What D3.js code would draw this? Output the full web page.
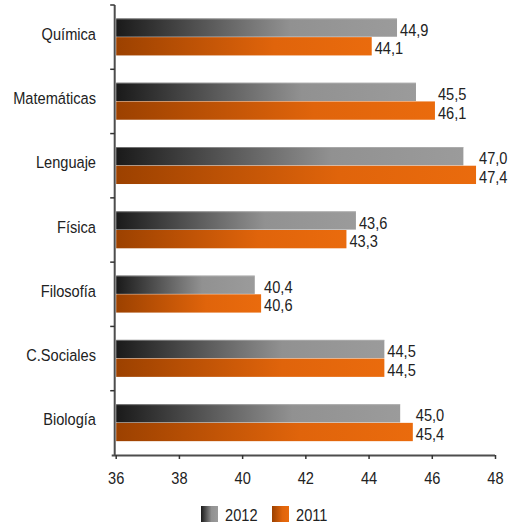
<!DOCTYPE html>
<html>
<head>
<meta charset="utf-8">
<script src="https://cdn.jsdelivr.net/npm/d3@7"></script>
<style>
  html, body { margin: 0; padding: 0; background: #fff; }
  svg { display: block; }
</style>
</head>
<body>
<div id="chart"></div>
<script>
const categories = ["Química", "Matemáticas", "Lenguaje", "Física", "Filosofía", "C.Sociales", "Biología"];
const values2012 = [44.9, 45.5, 47.0, 43.6, 40.4, 44.5, 45.0];
const values2011 = [44.1, 46.1, 47.4, 43.3, 40.6, 44.5, 45.4];
const seriesNames = ["2012", "2011"];
const xTicks = [36, 38, 40, 42, 44, 46, 48];

(function () {
const W = 532, H = 525;
const mLeft = 115.7, mRight = 495, mTop = 5, mBottom = 455;

const FONT = '"Liberation Sans", Arial, sans-serif';
const FS = 17.2;
const SQUEEZE = 0.85;

const svg = d3.select("#chart").append("svg").attr("width", W).attr("height", H)
  .style("font-family", FONT).style("font-size", FS + "px");

function fitText(sel) {
  sel.each(function () {
    const l = this.getComputedTextLength();
    d3.select(this).attr("textLength", l * SQUEEZE).attr("lengthAdjust", "spacingAndGlyphs");
  });
}

const defs = svg.append("defs");
const g12 = defs.append("linearGradient").attr("id", "g2012");
g12.append("stop").attr("offset", "0").attr("stop-color", "#1a1a1a");
g12.append("stop").attr("offset", "0.62").attr("stop-color", "#919191");
g12.append("stop").attr("offset", "1").attr("stop-color", "#9b9b9b");
const g11 = defs.append("linearGradient").attr("id", "g2011");
g11.append("stop").attr("offset", "0").attr("stop-color", "#9c4100");
g11.append("stop").attr("offset", "0.62").attr("stop-color", "#e0640b");
g11.append("stop").attr("offset", "1").attr("stop-color", "#ea6b0d");
const fills = ["url(#g2012)", "url(#g2011)"];

const x = d3.scaleLinear().domain([36, 48]).range([mLeft, mRight]);
const y = d3.scaleBand().domain(categories).range([mTop, mBottom]).padding(0);
const barH = 18.7;
const sub = d3.scaleBand().domain(seriesNames).range([-barH, barH]);

const rows = categories.map((c, i) => ({ cat: c, v: [values2012[i], values2011[i]] }));

// bars
const rowG = svg.append("g").selectAll("g").data(rows).join("g")
  .attr("transform", d => `translate(0,${y(d.cat) + y.bandwidth() / 2})`);

rowG.selectAll("rect.bar").data(d => d.v.map((v, k) => ({ v, k }))).join("rect")
  .attr("class", "bar")
  .attr("x", x(36) + 0.5)
  .attr("y", d => sub(seriesNames[d.k]))
  .attr("width", d => x(d.v) - x(36) - 0.5)
  .attr("height", sub.bandwidth() - 0.4)
  .attr("fill", d => fills[d.k]);

// top highlight on gray bars
rowG.append("rect")
  .attr("x", x(36) + 0.5)
  .attr("y", sub("2012"))
  .attr("width", d => x(d.v[0]) - x(36) - 0.5)
  .attr("height", 1)
  .attr("fill", "#bdbdbd").attr("opacity", 0.5);

// value labels
rowG.each(function (d) {
  const e12 = x(d.v[0]), e11 = x(d.v[1]);
  let lx = [e12 + 3, e11 + 3];
  if (e11 > e12) lx = [e11 + 3, e11 + 3];
  const sel = d3.select(this).selectAll("text.val").data(d.v.map((v, k) => ({ v, k }))).join("text")
    .attr("class", "val")
    .attr("x", p => lx[p.k])
    .attr("y", p => sub(seriesNames[p.k]) + sub.bandwidth() - 1.5)
    .attr("fill", "#222")
    .text(p => d3.format(".1f")(p.v).replace(".", ","));
  fitText(sel);
});

// y axis
const yAxisG = svg.append("g");
yAxisG.append("line").attr("x1", mLeft - 1).attr("x2", mLeft - 1).attr("y1", mTop).attr("y2", mBottom)
  .attr("stroke", "#4d4d4d").attr("stroke-width", 2);
yAxisG.selectAll("line.tk").data(categories).join("line").attr("class", "tk")
  .attr("x1", mLeft - 5.5).attr("x2", mLeft - 1)
  .attr("y1", d => y(d)).attr("y2", d => y(d))
  .attr("stroke", "#333").attr("stroke-width", 1.5);
const catText = yAxisG.selectAll("text").data(categories).join("text")
  .attr("x", 96).attr("y", d => y(d) + y.bandwidth() / 2 + 2.5)
  .attr("text-anchor", "end").attr("fill", "#222")
  .text(d => d);
fitText(catText);

// x axis
const xAxisG = svg.append("g").attr("transform", `translate(0,${mBottom})`)
  .call(d3.axisBottom(x).tickValues(xTicks).tickSize(4).tickSizeOuter(0).tickFormat(d3.format("d")));
xAxisG.select(".domain").attr("stroke", "#4d4d4d").attr("stroke-width", 2).attr("d", `M${mLeft - 4},0.5H${mRight}`);
xAxisG.selectAll(".tick line").attr("stroke", "#333").attr("stroke-width", 1.5);
xAxisG.selectAll(".tick text").attr("fill", "#222").style("font-family", FONT).style("font-size", FS + "px")
  .attr("y", 29).attr("dy", null);
fitText(xAxisG.selectAll(".tick text"));

// legend
const legend = svg.append("g").attr("transform", "translate(201,506)");
const li = legend.selectAll("g").data(seriesNames).join("g")
  .attr("transform", (d, i) => `translate(${i * 71},0)`);
li.append("rect").attr("width", 17).attr("height", 16).attr("fill", (d, i) => fills[i]);
const lt = li.append("text").attr("x", 24).attr("y", 14.5).attr("fill", "#222").text(d => d);
fitText(lt);
})();
</script>
</body>
</html>
